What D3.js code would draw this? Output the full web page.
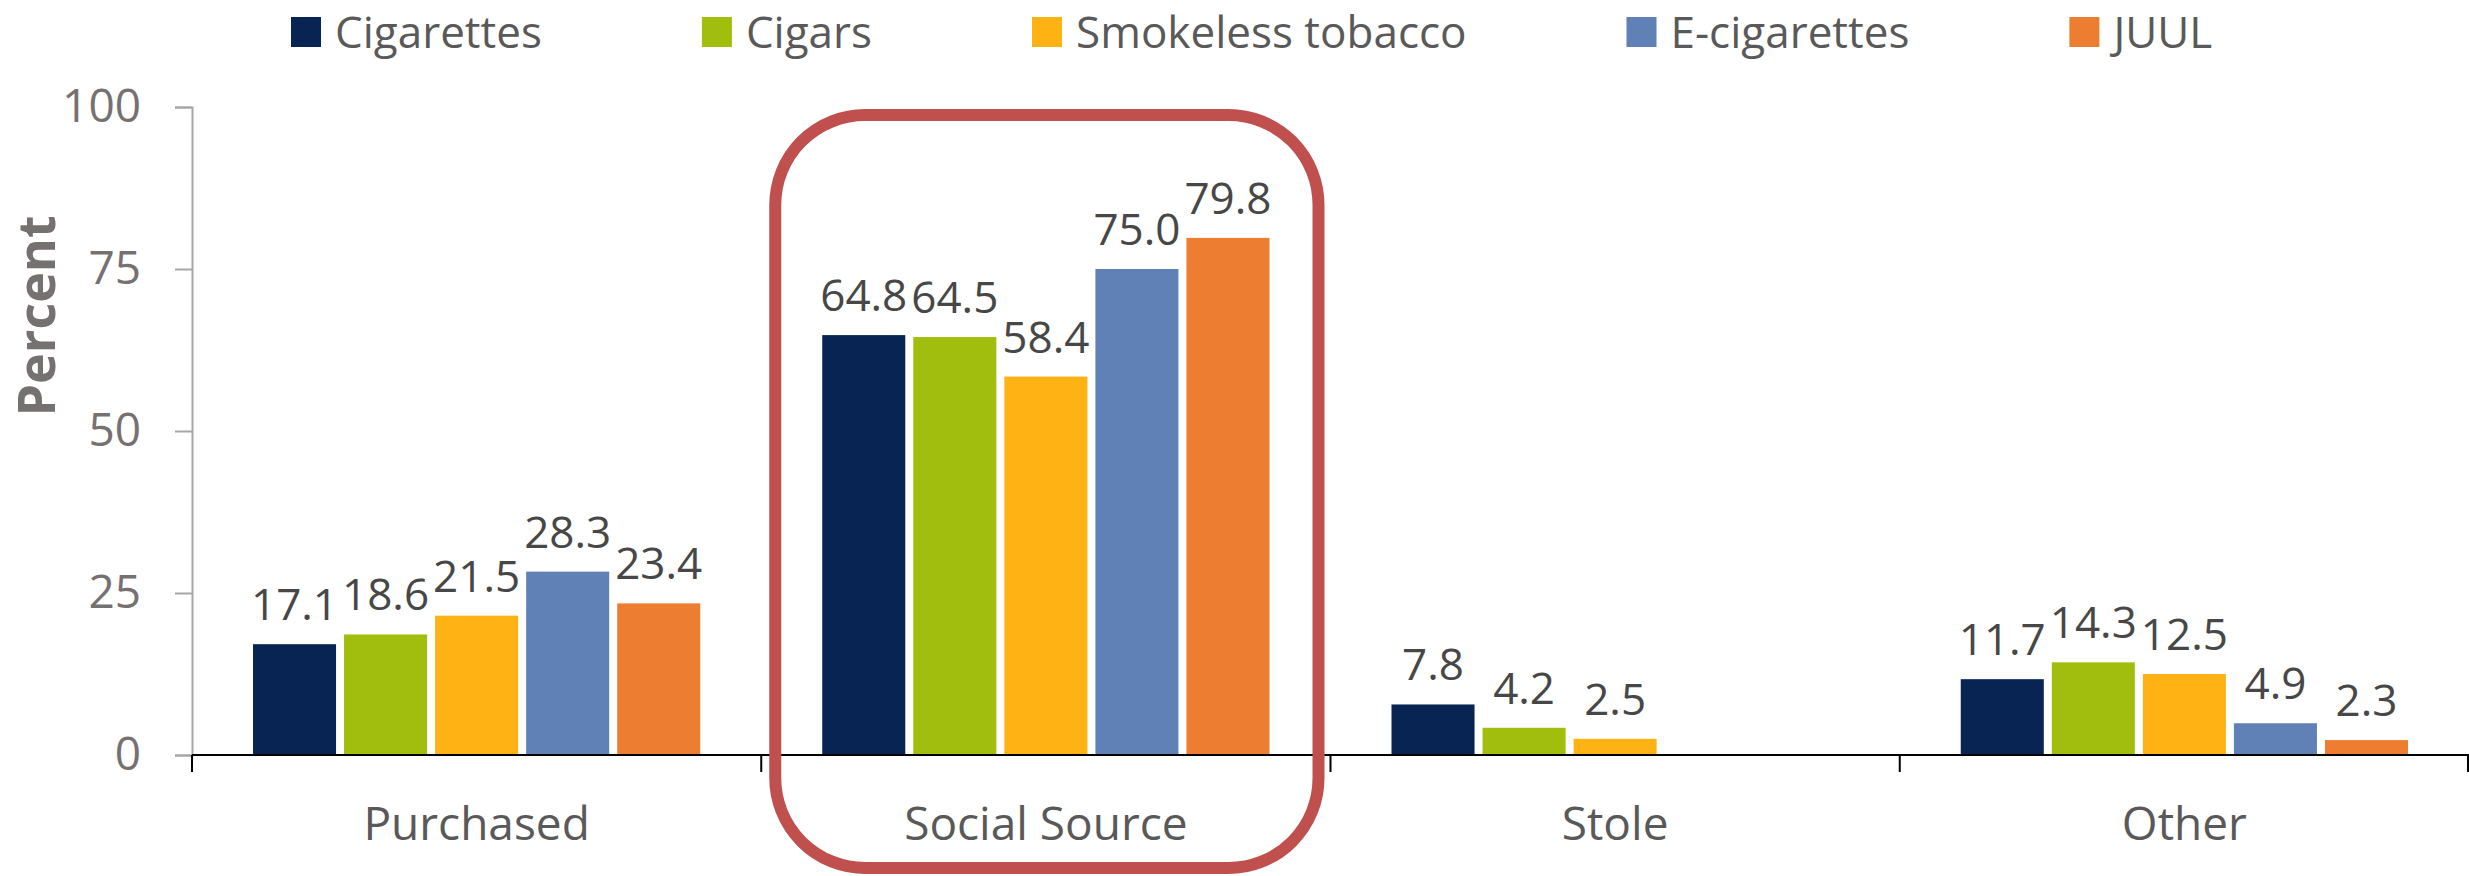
<!DOCTYPE html>
<html>
<head>
<meta charset="utf-8">
<script src="https://cdn.jsdelivr.net/npm/d3@7/dist/d3.min.js"></script>
<style>
  html, body { margin: 0; padding: 0; background: #ffffff; }
  svg { display: block; font-family: "Open Sans", "Liberation Sans", sans-serif; }
</style>
</head>
<body>
<svg id="chart" width="2469" height="876"></svg>
<script>
// Source of tobacco products, by category
const categories = ["Purchased", "Social Source", "Stole", "Other"];
const seriesNames = ["Cigarettes", "Cigars", "Smokeless tobacco", "E-cigarettes", "JUUL"];
const seriesColors = ["#072452", "#a1bd0e", "#feb213", "#5f81b6", "#ed7d31"];

const cigarettes = [17.1, 64.8, 7.8, 11.7];
const cigars = [18.6, 64.5, 4.2, 14.3];
const smokeless = [21.5, 58.4, 2.5, 12.5];
const eCigarettes = [28.3, 75.0, null, 4.9];
const juul = [23.4, 79.8, null, 2.3];

const yTicks = [0, 25, 50, 75, 100];
const highlighted = "Social Source";

const seriesValues = [cigarettes, cigars, smokeless, eCigarettes, juul];

const svg = d3.select("#chart");

const plot = { left: 192, right: 2469, top: 107, bottom: 755 };

const x0 = d3.scaleBand().domain(categories).range([plot.left, plot.right]).padding(0);
const groupInset = 61;
const x1 = d3.scaleBand()
  .domain(seriesNames)
  .range([groupInset, x0.bandwidth() - groupInset])
  .paddingInner(0.088)
  .paddingOuter(0);
const y = d3.scaleLinear().domain([0, 100]).range([plot.bottom, plot.top]);

// Y axis (gray)
const yAxis = svg.append("g")
  .attr("transform", `translate(${plot.left},0)`)
  .call(d3.axisLeft(y).tickValues(yTicks).tickSize(17).tickPadding(34).tickFormat(d3.format("d")));
yAxis.select(".domain").attr("stroke", "#a6a6a6").attr("stroke-width", 2);
yAxis.selectAll(".tick line").attr("stroke", "#a6a6a6").attr("stroke-width", 2);
yAxis.selectAll(".tick text")
  .attr("fill", "#767171")
  .style("font-size", "46px")
  .style("font-family", "'Open Sans', sans-serif");

// Y axis title
svg.append("text")
  .attr("transform", `translate(55,316) rotate(-90)`)
  .attr("text-anchor", "middle")
  .attr("fill", "#767171")
  .style("font-size", "52px")
  .style("font-weight", "bold")
  .text("Percent");

// Bars
const rows = categories.map((c, i) => ({
  category: c,
  values: seriesNames.map((s, j) => ({ series: s, color: seriesColors[j], value: seriesValues[j][i] }))
    .filter(d => d.value !== null)
}));

const groups = svg.append("g").selectAll("g")
  .data(rows)
  .join("g")
  .attr("transform", d => `translate(${x0(d.category)},0)`);

groups.selectAll("rect")
  .data(d => d.values)
  .join("rect")
  .attr("x", d => x1(d.series))
  .attr("width", x1.bandwidth())
  .attr("y", d => y(d.value))
  .attr("height", d => y(0) - y(d.value))
  .attr("fill", d => d.color);

groups.selectAll("text")
  .data(d => d.values)
  .join("text")
  .attr("x", d => x1(d.series) + x1.bandwidth() / 2)
  .attr("y", d => y(d.value) - 24)
  .attr("text-anchor", "middle")
  .attr("fill", "#474747")
  .style("font-size", "44px")
  .text(d => d3.format(".1f")(d.value));

// X axis (black) with ticks at category boundaries
svg.append("line")
  .attr("x1", plot.left).attr("x2", plot.right)
  .attr("y1", y(0)).attr("y2", y(0))
  .attr("stroke", "#000").attr("stroke-width", 2);

const boundaries = categories.map(c => x0(c)).concat([x0.range()[1] - 1]);
svg.append("g").selectAll("line")
  .data(boundaries)
  .join("line")
  .attr("x1", d => d).attr("x2", d => d)
  .attr("y1", y(0)).attr("y2", y(0) + 17)
  .attr("stroke", "#000").attr("stroke-width", 2);

svg.append("g").selectAll("text")
  .data(categories)
  .join("text")
  .attr("x", d => x0(d) + x0.bandwidth() / 2)
  .attr("y", 840)
  .attr("text-anchor", "middle")
  .attr("fill", "#595959")
  .style("font-size", "46px")
  .text(d => d);

// Highlight frame around one category
const hx = x0(highlighted);
svg.append("rect")
  .attr("x", hx + 14)
  .attr("y", 115)
  .attr("width", x0.bandwidth() - 26)
  .attr("height", 753)
  .attr("rx", 90).attr("ry", 90)
  .attr("fill", "none")
  .attr("stroke", "#c0504d")
  .attr("stroke-width", 12);

// Legend
const legend = svg.append("g");
let lx = 291;
seriesNames.forEach((name, i) => {
  const item = legend.append("g").attr("transform", `translate(${lx},0)`);
  item.append("rect").attr("x", 0).attr("y", 17).attr("width", 30).attr("height", 30).attr("fill", seriesColors[i]);
  const t = item.append("text")
    .attr("x", 44).attr("y", 48)
    .attr("fill", "#595959")
    .style("font-size", "44px")
    .text(name);
  lx += 44 + t.node().getComputedTextLength() + 160;
});
</script>
</body>
</html>
